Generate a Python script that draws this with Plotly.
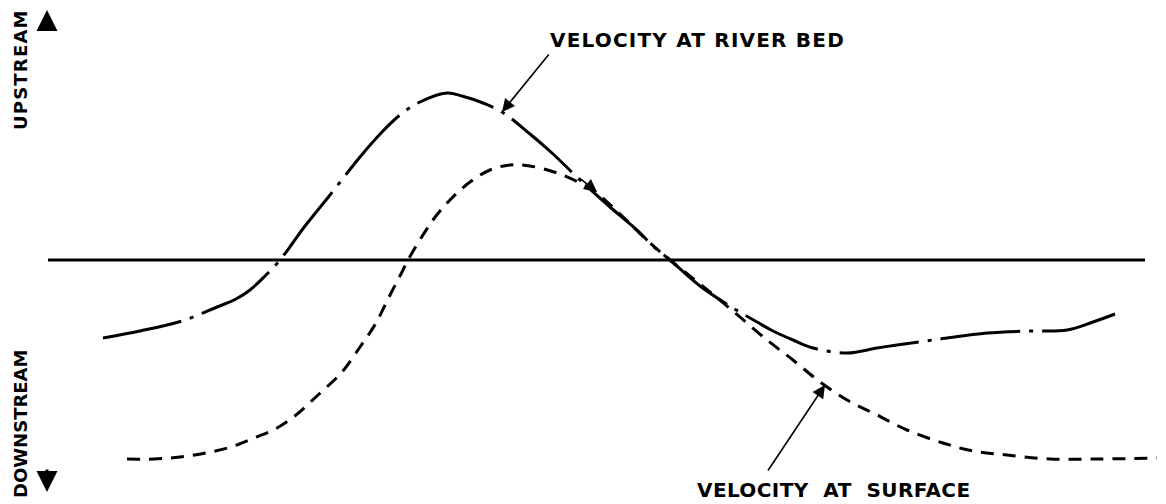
import plotly.graph_objects as go

# distance along the reach (arbitrary units) and velocity (+ upstream, - downstream)
bed_x = [103, 140, 182, 217, 236, 250, 265, 280, 292, 302, 330, 360, 382, 400, 420, 447,
         462, 483, 502, 530, 552, 580, 610, 637, 653, 670, 700, 733, 757, 773, 793,
         813, 847, 877, 897, 940, 987, 1030, 1067, 1093, 1115]
bed_v = [-78, -71, -61, -47, -39, -30, -16, 0, 16, 30, 65, 103, 128, 145, 158, 167,
         164, 157, 148, 126, 107, 80, 53, 30, 14, 0, -26, -48, -62, -71, -80,
         -88, -93, -88, -85, -79, -73, -71, -70, -62, -54]

surf_x = [127, 154, 180, 206, 231, 254, 277, 296, 318, 342, 360, 376, 389, 402, 408,
          433, 450, 470, 490, 510, 530, 557, 580, 593, 620, 650, 670, 700, 733, 767,
          793, 820, 847, 877, 907, 943, 973, 1007, 1050, 1100, 1157]
surf_v = [-199, -199, -197, -193, -187, -178, -168, -155, -135, -112, -87, -63, -37, -12, 0,
          40, 60, 78, 90, 95, 94, 87, 77, 70, 46, 17, 0, -24, -51, -80,
          -100, -122, -140, -155, -170, -183, -191, -195, -199, -199, -198]

zero_x = [48, 1145]
zero_v = [0, 0]

font = dict(family="DejaVu Sans", size=20, color="black", weight="bold")
side_font = dict(family="DejaVu Sans", size=18, color="black", weight="bold")

fig = go.Figure()
fig.add_trace(go.Scatter(x=zero_x, y=zero_v, mode="lines",
                         line=dict(color="black", width=3)))
fig.add_trace(go.Scatter(x=bed_x, y=bed_v, mode="lines", line_shape="spline",
                         line=dict(color="black", width=3, smoothing=1,
                                   dash="80px,9px,4px,9px")))
fig.add_trace(go.Scatter(x=surf_x, y=surf_v, mode="lines", line_shape="spline",
                         line=dict(color="black", width=3, smoothing=1, dash="13px,9px")))

arrows = [
    # (head x, head v, tail x, tail v, width, size)
    (502, 148, 550, 207, 1.6, 1.6),
    (597, 68, 578, 83, 1.6, 1.6),
    (825, -125, 767, -212, 1.6, 1.6),
    (47, 250, 47, 228, 3, 1.4),
    (47, -232, 47, -208, 3, 1.4),
]
for hx, hv, tx, tv, w, s in arrows:
    fig.add_annotation(x=hx, y=hv, ax=tx, ay=tv, xref="x", yref="y", axref="x", ayref="y",
                       text="", showarrow=True, arrowhead=2, arrowwidth=w, arrowsize=s,
                       arrowcolor="black")

fig.add_annotation(x=548, y=220, xref="x", yref="y", xanchor="left", yanchor="middle",
                   showarrow=False, font=font,
                   text='<span style="letter-spacing:1.2px">VELOCITY AT RIVER BED</span>')
fig.add_annotation(x=695, y=-230, xref="x", yref="y", xanchor="left", yanchor="middle",
                   showarrow=False, font=font,
                   text='<span style="letter-spacing:0.4px">VELOCITY\u00a0\u00a0AT\u00a0\u00a0SURFACE</span>')
fig.add_annotation(x=20, y=190, xref="x", yref="y", textangle=-90, showarrow=False,
                   font=side_font,
                   text='<span style="letter-spacing:1.2px">UPSTREAM</span>')
fig.add_annotation(x=20, y=-164, xref="x", yref="y", textangle=-90, showarrow=False,
                   font=side_font, text='DOWNSTREAM')

# the page adds an 8px body margin, so the ranges are shifted to keep positions
fig.update_xaxes(range=[8, 1174], visible=False, fixedrange=True)
fig.update_yaxes(range=[-252, 252], visible=False, fixedrange=True)
fig.update_layout(width=1166, height=504, margin=dict(l=0, r=0, t=0, b=0),
                  showlegend=False, plot_bgcolor="white", paper_bgcolor="white")

fig.write_html("out.html")
